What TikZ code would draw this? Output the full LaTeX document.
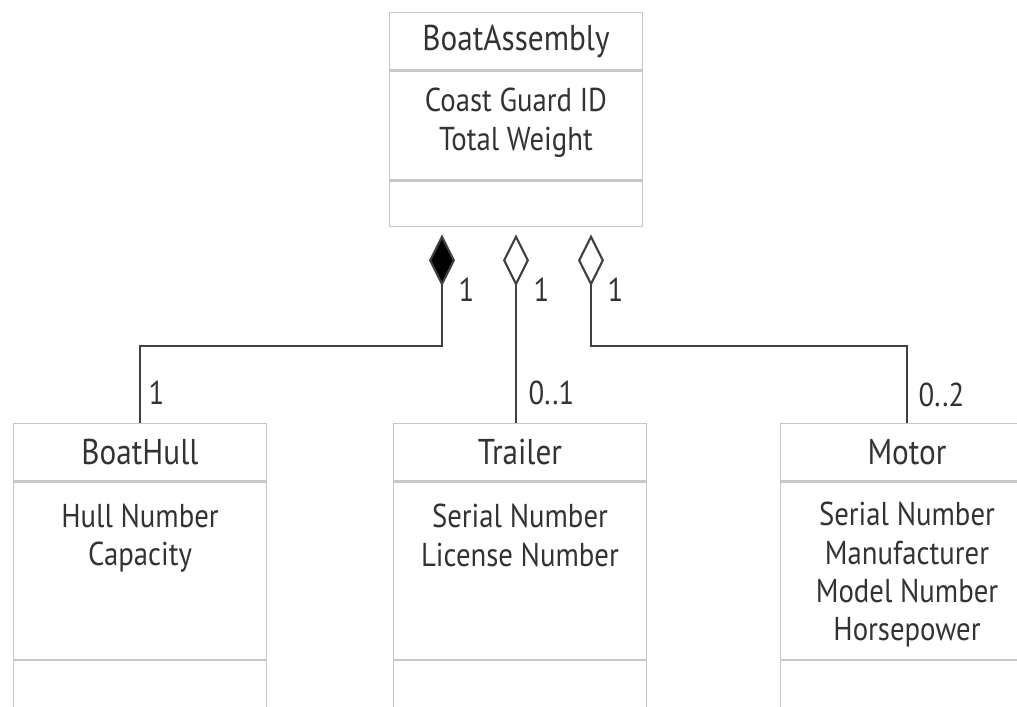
\documentclass[tikz,border=0pt]{standalone}
\usepackage{fontspec}
\setmainfont[FakeStretch=0.87]{PT Sans}
\usetikzlibrary{positioning, calc, arrows.meta}

\begin{document}
\begin{tikzpicture}[x=0.01cm, y=-0.01cm, font=\fontsize{9.4}{10.9}\selectfont,
box/.style={draw=black!22, line width=0.4pt, minimum width=2.53cm, inner sep=0pt, anchor=north, text=black!80},
namebox/.style={box, minimum height=0.57cm, font=\fontsize{10.2}{11}\selectfont},
attrtext/.style={inner sep=0pt, align=center, text=black!80},
link/.style={draw=black!75, line width=0.6pt},
comp/.style={link, -{Diamond[length=0.52cm, width=0.26cm, fill=black]}, shorten >=0.07cm},
aggr/.style={link, -{Diamond[open, length=0.52cm, width=0.26cm]}, shorten >=0.07cm},
mult/.style={inner sep=0pt, anchor=base west, text=black!80}]
\useasboundingbox (0,0) rectangle (1017,707);
\node[namebox] (asm) at (516,12) {BoatAssembly};
\node[box, minimum height=1.09cm, below=0pt of asm] (asmattr) {};
\node[attrtext, below=0.17cm of asmattr.north] (asmattrtext) {Coast Guard ID\\Total Weight};
\node[box, minimum height=0.45cm, below=0pt of asmattr] (asmops) {};
\node[namebox] (hull) at (140,423) {BoatHull};
\node[box, minimum height=1.77cm, below=0pt of hull] (hullattr) {};
\node[attrtext, below=0.22cm of hullattr.north] (hullattrtext) {Hull Number\\Capacity};
\node[box, minimum height=1cm, below=0pt of hullattr] (hullops) {};
\node[namebox] (trl) at (520,423) {Trailer};
\node[box, minimum height=1.77cm, below=0pt of trl] (trlattr) {};
\node[attrtext, below=0.22cm of trlattr.north] (trlattrtext) {Serial Number\\License Number};
\node[box, minimum height=1cm, below=0pt of trlattr] (trlops) {};
\node[namebox] (mot) at (907,423) {Motor};
\node[box, minimum height=1.77cm, below=0pt of mot] (motattr) {};
\node[attrtext, below=0.2cm of motattr.north] (motattrtext) {Serial Number\\Manufacturer\\Model Number\\Horsepower};
\node[box, minimum height=1cm, below=0pt of motattr] (motops) {};
\coordinate (asmhull) at ($(asmops.south)+(-74,0)$);
\coordinate (asmmot) at ($(asmops.south)+(75,0)$);
\draw[comp] (hull.north) -- ++(0,-77) -| (asmhull);
\draw[aggr] (trl.north -| asmops.south) -- (asmops.south);
\draw[aggr] (mot.north) -- ++(0,-77) -| (asmmot);
\node[mult] (hullone) at ($(asmhull)+(16,74)$) {1};
\node[mult] (trlone) at ($(asmops.south)+(17,74)$) {1};
\node[mult] (motone) at ($(asmmot)+(16,74)$) {1};
\node[mult] (hullmult) at ($(hull.north)+(8,-18)$) {1};
\node[mult] (trlmult) at ($(trl.north -| asmops.south)+(12,-18)$) {0..1};
\node[mult] (motmult) at ($(mot.north)+(11,-16)$) {0..2};
\end{tikzpicture}
\end{document}
